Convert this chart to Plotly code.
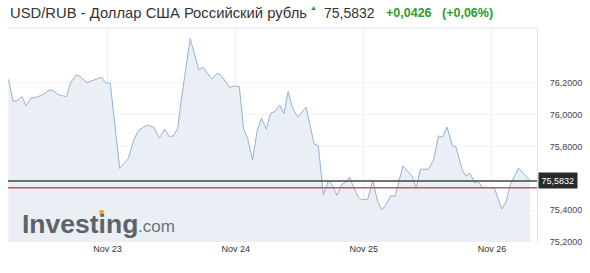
import plotly.graph_objects as go
import pandas as pd

# ---- data ----
times = [
    "2020-11-22 05:26", "2020-11-22 06:19", "2020-11-22 07:03", "2020-11-22 07:59", "2020-11-22 08:46",
    "2020-11-22 09:38", "2020-11-22 10:37", "2020-11-22 11:41", "2020-11-22 12:17", "2020-11-22 13:05",
    "2020-11-22 13:49", "2020-11-22 14:45", "2020-11-22 16:18", "2020-11-22 17:02", "2020-11-22 18:01",
    "2020-11-22 18:46", "2020-11-22 20:07", "2020-11-22 21:32", "2020-11-22 22:50", "2020-11-22 23:34",
    "2020-11-23 00:30", "2020-11-23 02:17", "2020-11-23 03:53", "2020-11-23 04:56", "2020-11-23 05:44",
    "2020-11-23 07:24", "2020-11-23 08:38", "2020-11-23 09:42", "2020-11-23 10:41", "2020-11-23 11:33",
    "2020-11-23 12:20", "2020-11-23 13:08", "2020-11-23 13:53", "2020-11-23 15:29", "2020-11-23 17:06",
    "2020-11-23 17:54", "2020-11-23 19:34", "2020-11-23 20:32", "2020-11-23 21:17", "2020-11-23 22:50",
    "2020-11-23 23:46", "2020-11-24 00:41", "2020-11-24 01:29", "2020-11-24 02:13", "2020-11-24 03:09",
    "2020-11-24 04:04", "2020-11-24 04:49", "2020-11-24 05:44", "2020-11-24 06:32", "2020-11-24 07:16",
    "2020-11-24 08:16", "2020-11-24 09:01", "2020-11-24 09:49", "2020-11-24 10:33", "2020-11-24 11:36",
    "2020-11-24 13:11", "2020-11-24 14:41", "2020-11-24 15:29", "2020-11-24 16:25", "2020-11-24 17:20",
    "2020-11-24 17:57", "2020-11-24 19:00", "2020-11-24 19:48", "2020-11-24 20:44", "2020-11-24 21:20",
    "2020-11-24 21:50", "2020-11-24 22:53", "2020-11-24 23:30", "2020-11-25 00:44", "2020-11-25 01:40",
    "2020-11-25 02:35", "2020-11-25 03:23", "2020-11-25 04:08", "2020-11-25 05:04", "2020-11-25 05:51",
    "2020-11-25 07:20", "2020-11-25 08:26", "2020-11-25 09:04", "2020-11-25 09:49", "2020-11-25 10:36",
    "2020-11-25 12:08", "2020-11-25 13:04", "2020-11-25 13:59", "2020-11-25 14:44", "2020-11-25 15:36",
    "2020-11-25 16:35", "2020-11-25 17:13", "2020-11-25 18:26", "2020-11-25 19:04", "2020-11-25 19:52",
    "2020-11-25 20:47", "2020-11-25 21:23", "2020-11-25 22:19", "2020-11-25 22:57", "2020-11-26 00:29",
    "2020-11-26 01:50", "2020-11-26 02:39", "2020-11-26 03:26", "2020-11-26 04:59", "2020-11-26 06:21",
    "2020-11-26 07:08",
]
rates = [
    76.221, 76.083, 76.087, 76.112, 76.054, 76.104, 76.109, 76.121, 76.134, 76.154,
    76.150, 76.125, 76.112, 76.196, 76.246, 76.242, 76.200, 76.217, 76.234, 76.200,
    76.196, 75.661, 75.724, 75.841, 75.899, 75.935, 75.921, 75.852, 75.908, 75.862,
    75.866, 75.914, 76.112, 76.476, 76.280, 76.296, 76.221, 76.259, 76.246, 76.171,
    76.179, 76.175, 75.908, 75.852, 75.716, 75.904, 75.977, 75.908, 76.008, 76.018,
    76.060, 76.004, 76.144, 76.050, 75.983, 76.046, 75.816, 75.803, 75.496, 75.580,
    75.565, 75.492, 75.559, 75.580, 75.607, 75.565, 75.486, 75.465, 75.469, 75.586,
    75.454, 75.402, 75.434, 75.490, 75.486, 75.678, 75.632, 75.611, 75.538, 75.657,
    75.657, 75.716, 75.866, 75.858, 75.921, 75.803, 75.799, 75.653, 75.615, 75.632,
    75.570, 75.580, 75.538, 75.545, 75.536, 75.407, 75.454, 75.559, 75.664, 75.615,
    75.5832,
]
last_price = 75.5832
change = 0.0426
change_pct = 0.06
prev_close = round(last_price - change, 4)

x_tick_vals = ["2020-11-23", "2020-11-24", "2020-11-25", "2020-11-26"]
x_tick_text = ["Nov 23", "Nov 24", "Nov 25", "Nov 26"]
y_tick_vals = [75.2, 75.4, 75.8, 76.0, 76.2]   # 75.6 label is hidden behind the price box
y_grid_vals = [75.2, 75.4, 75.6, 75.8, 76.0, 76.2]

x_range = ["2020-11-22 05:21", "2020-11-26 08:26"]
y_range = [75.2, 76.543]

def fmt(v, d=4):
    return f"{v:.{d}f}".replace(".", ",")

# ---- layout geometry (pixels) ----
W, H = 590, 273
L, R, T, B = 7.5, 543, 28, 242.5
def px_x(px):
    return (px - L) / (R - L)
def px_y(py):
    return (B - py) / (B - T)

ts = pd.to_datetime(times)

fig = go.Figure()
fig.add_trace(go.Scatter(
    x=ts, y=rates, mode="lines",
    line=dict(color="#93b3d5", width=1),
    fill="tozeroy", fillcolor="#e9eff5",
    hoverinfo="skip", showlegend=False,
))

shapes = [
    dict(type="line", xref="paper", yref="y", x0=0, x1=1, y0=v, y1=v,
         line=dict(color="#f1f3f5", width=1), layer="below")
    for v in y_grid_vals
] + [
    dict(type="line", xref="paper", yref="y", x0=0, x1=1, y0=last_price, y1=last_price,
         line=dict(color="#444444", width=1.5), layer="above"),
    dict(type="line", xref="paper", yref="y", x0=0, x1=1, y0=prev_close, y1=prev_close,
         line=dict(color="#c8506a", width=1.5), layer="above"),
    dict(type="line", xref="paper", yref="paper", x0=0, x1=1, y0=1, y1=1,
         line=dict(color="#e3e3e3", width=1)),
    # orange dot of the logo "i"
    dict(type="rect", xref="paper", yref="paper",
         x0=px_x(100), x1=px_x(104.5), y0=px_y(215), y1=px_y(210.5),
         fillcolor="#f5a623", line=dict(width=0), layer="above"),
]

font = "Liberation Sans, Arial, sans-serif"
annotations = [
    dict(text="USD/RUB - Доллар США Российский рубль", x=px_x(8), y=px_y(12.5),
         xanchor="left", yanchor="middle", font=dict(family=font, size=14.8, color="#333333")),
    dict(text="▲", x=px_x(317), y=px_y(7.5), xanchor="center", yanchor="middle",
         font=dict(family=font, size=7, color="#27a127")),
    dict(text=fmt(last_price), x=px_x(325), y=px_y(12.5), xanchor="left", yanchor="middle",
         font=dict(family=font, size=14, color="#333333")),
    dict(text="<b>+" + fmt(change) + "</b>", x=px_x(388), y=px_y(13), xanchor="left", yanchor="middle",
         font=dict(family=font, size=12.5, color="#27a127")),
    dict(text="<b>(+" + fmt(change_pct, 2) + "%)</b>", x=px_x(445), y=px_y(13), xanchor="left", yanchor="middle",
         font=dict(family=font, size=12.5, color="#27a127")),
    # price box on right axis
    dict(text=fmt(last_price), xref="paper", yref="y", x=1, y=last_price,
         xanchor="left", yanchor="middle", bgcolor="#2b2b2b", borderpad=2.5,
         font=dict(family=font, size=9, color="#ffffff"), xshift=1),
    # logo
    dict(text="<b>Investing</b>", x=px_x(20), y=px_y(224), xanchor="left", yanchor="middle",
         font=dict(family=font, size=26.5, color="#5f6368")),
    dict(text=".com", x=px_x(137), y=px_y(226.5), xanchor="left", yanchor="middle",
         font=dict(family=font, size=17, color="#6f7377")),
]
for a in annotations:
    a.setdefault("xref", "paper")
    a.setdefault("yref", "paper")
    a["showarrow"] = False

fig.update_layout(
    width=W, height=H,
    margin=dict(l=L, r=W - R, t=T, b=H - B, pad=0),
    paper_bgcolor="white", plot_bgcolor="white",
    separators=", ",
    shapes=shapes, annotations=annotations,
    xaxis=dict(
        type="date", range=x_range, tickmode="array",
        tickvals=x_tick_vals, ticktext=x_tick_text,
        showgrid=True, gridcolor="#eef1f4", gridwidth=1,
        zeroline=False, showline=False, ticks="",
        tickfont=dict(family=font, size=9, color="#333333"),
    ),
    yaxis=dict(
        range=y_range, side="right", tickmode="array", tickvals=y_tick_vals,
        tickformat=".4f", showgrid=False,
        zeroline=False, showline=True, linecolor="#e3e3e3", linewidth=1,
        ticks="", ticklabelstandoff=10,
        tickfont=dict(family=font, size=9, color="#444444"),
    ),
)

fig.write_html("out.html")
